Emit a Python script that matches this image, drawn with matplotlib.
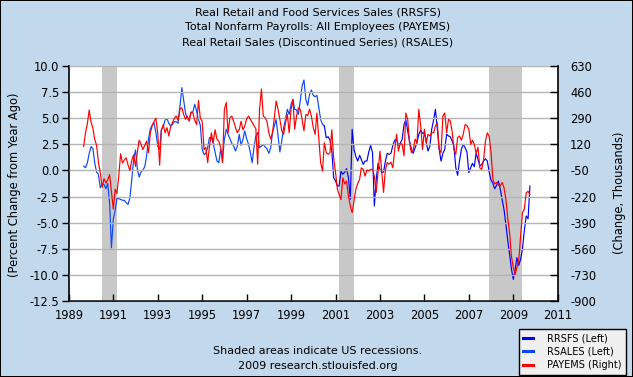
import numpy as np
import pandas as pd
import matplotlib
matplotlib.use("Agg")
import matplotlib.pyplot as plt
import matplotlib.dates as mdates
from matplotlib.lines import Line2D

plt.rcParams['font.family'] = ['DejaVu Sans']
plt.rcParams['axes.unicode_minus'] = False

# ---------------- data ----------------
start_month = "1989-09-01"

# RSALES, percent change from year ago (left axis)
rsales = [0.42, 0.26, 0.74, 1.64, 2.28, 2.08, 0.74, -0.15, -0.37, -1.65,
          -1.33, -1.33, -1.75, -1.24, -3.09, -7.4, -4.68, -3.79, -2.7, -2.7,
          -2.77, -2.86, -2.86, -3.09, -3.25, -2.6, -0.85, 1.06, 1.96, 0.1,
          -0.63, -0.15, 0.04, 0.36, 1.38, 2.98, 4.0, 4.32, 4.57, 3.62,
          2.34, 2.02, 3.94, 4.19, 4.83, 4.96, 4.51, 4.26, 4.41, 4.67,
          4.67, 4.51, 6.17, 7.93, 6.81, 5.53, 4.96, 4.83, 5.53, 5.6,
          6.33, 5.69, 4.89, 4.32, 2.02, 1.51, 1.64, 2.18, 3.14, 3.14,
          2.6, 1.77, 0.9, 0.74, 2.02, 1.0, 2.98, 3.94, 3.46, 3.04,
          2.6, 2.34, 1.86, 2.34, 3.46, 2.4, 2.98, 3.78, 3.04, 2.5,
          1.77, 0.74, 2.18, 3.3, 3.62, 2.18, 2.34, 2.47, 2.24, 2.08,
          1.64, 2.18, 3.62, 4.26, 4.89, 3.3, 1.77, 2.82, 4.1, 4.89,
          5.85, 5.37, 6.33, 6.81, 5.85, 5.79, 5.37, 6.65, 8.09, 8.66,
          6.81, 6.23, 7.29, 7.7, 7.19, 7.06, 7.19, 6.01, 4.89, 4.41,
          4.26]

# RRSFS, percent change from year ago (left axis), continues after RSALES
rrsfs_start_index = 130
rrsfs = [4.26, 3.14, 3.23, 2.91, 1.86, -0.69, -1.01, -1.49, -1.49, -0.05,
         -0.37, -0.15, 0.17, -0.69, -2.77, 3.94, 2.02, 1.32, 0.9, 1.45,
         1.06, 0.58, 0.9, 0.9, 1.77, 2.4, 1.7, -3.4, -0.85, 0.68,
         0.1, -0.21, -0.15, 0.9, 1.64, 1.54, 1.64, 2.4, 2.91, 2.98,
         2.4, 2.6, 2.98, 4.41, 4.83, 3.78, 2.82, 2.02, 1.64, 2.18,
         2.66, 3.46, 3.87, 3.55, 3.62, 2.66, 1.86, 2.34, 3.94, 4.83,
         5.85, 4.0, 2.02, 0.9, 1.64, 2.02, 3.46, 3.3, 3.23, 2.82,
         2.34, 0.26, -0.47, 0.9, 2.02, 2.5, 2.18, 1.77, -0.21, 0.26,
         0.68, 0.36, 1.64, 1.06, 0.42, 0.58, 0.9, 1.13, 0.9, -0.15,
         -0.92, -1.24, -1.75, -1.43, -1.01, -1.81, -2.77, -3.72, -5.16, -6.66,
         -8.03, -9.41, -10.43, -9.47, -8.35, -9.09, -8.51, -7.49, -5.8, -4.36,
         -4.62, -1.5]

# PAYEMS, monthly change in thousands (right axis)
payems = [106, 195, 256, 344, 263, 222, 154, 113, 4, -64,
          -159, -104, -132, -111, -77, -186, -302, -172, -200, -84,
          59, -2, 18, 32, -16, -50, 18, 52, -23, 72,
          147, 120, 86, 113, 140, 66, 195, 242, 270, 290,
          188, -16, 208, 249, 195, 229, 174, 236, 263, 290,
          304, 276, 351, 358, 317, 283, 304, 270, 331, 324,
          276, 249, 406, 290, 270, 86, 100, 1, 106, 195,
          130, 215, 154, 140, 100, 1, 348, 392, 195, 293,
          304, 270, 229, 195, 215, 270, 215, 239, 287, 304,
          283, 263, 242, 222, -9, 348, 480, 304, 293, 270,
          195, 154, 195, 293, 402, 348, 283, 208, 185, 259,
          314, 195, 348, 412, 219, 304, 358, 348, 283, 208,
          314, 307, 348, 304, 229, 185, 324, 164, 1, -53,
          130, 66, 55, 66, 215, 32, -64, -172, -206, -240,
          -98, -138, -118, -217, -281, -325, -247, -172, -135, -108,
          -33, -43, -87, -47, -53, -43, -43, -87, -193, -64,
          76, -64, -193, -43, 1, -9, 4, -33, 86, 185,
          76, 127, 120, 45, 324, 283, 130, 66, 83, 154,
          130, 348, 239, 86, 219, 130, 185, 174, 195, 195,
          239, 259, 86, 66, 304, 324, 195, 283, 273, 208,
          86, 55, 164, 174, 147, 185, 249, 242, 219, 120,
          147, 120, 62, 100, -33, -43, 21, 140, 195, 174,
          66, -108, -138, -128, -145, -152, -128, -162, -237, -356,
          -455, -608, -682, -727, -682, -638, -478, -325, -302, -196,
          -186, -206]

recessions = [("1990-07-01", "1991-03-01"),
              ("2001-03-01", "2001-11-01"),
              ("2007-12-01", "2009-06-01")]

title_lines = ["Real Retail and Food Services Sales (RRSFS)",
               "Total Nonfarm Payrolls: All Employees (PAYEMS)",
               "Real Retail Sales (Discontinued Series) (RSALES)"]
left_ticks = [10.0, 7.5, 5.0, 2.5, 0.0, -2.5, -5.0, -7.5, -10.0, -12.5]
right_ticks = [630, 460, 290, 120, -50, -220, -390, -560, -730, -900]
x_tick_years = [1989, 1991, 1993, 1995, 1997, 1999, 2001, 2003, 2005, 2007, 2009, 2011]

# ---------------- figure ----------------
W, H = 633, 377
fig = plt.figure(figsize=(W / 100, H / 100), dpi=100)
bg = '#C2D8EC'
fig.patch.set_facecolor(bg)
fig.patch.set_edgecolor('black')
fig.patch.set_linewidth(1.2)

l, r, t, b = 68.9, 557.7, 66, 301
ax = fig.add_axes([l / W, 1 - b / H, (r - l) / W, (b - t) / H])
ax.set_facecolor('white')

months_all = pd.date_range(start_month, periods=len(payems), freq='MS')
d_rsales = months_all[:len(rsales)]
d_rrsfs = months_all[rrsfs_start_index:rrsfs_start_index + len(rrsfs)]

for s, e in recessions:
    ax.axvspan(pd.Timestamp(s), pd.Timestamp(e), color='#C8C8C8', lw=0, zorder=0.5)

ax.set_ylim(-12.5, 10.0)
ax.set_yticks(left_ticks)
ax.set_yticklabels([f"{v:.1f}" for v in left_ticks])
ax.yaxis.grid(True, color='#B4B4B4', lw=1.0, zorder=0.6)
ax.set_axisbelow(False)

ax.plot(d_rsales, rsales, color='#0A46FF', lw=0.85, zorder=2)
ax.plot(d_rrsfs, rrsfs, color='#0000FF', lw=0.85, zorder=2)

ax.set_xlim(pd.Timestamp("1989-01-01"), pd.Timestamp("2011-01-01"))
ax.set_xticks([pd.Timestamp(f"{y}-01-01") for y in x_tick_years])
ax.set_xticklabels([str(y) for y in x_tick_years])

ax.tick_params(axis='y', direction='out', length=5, width=1, pad=2, labelsize=8.3, colors='black')
ax.tick_params(axis='x', direction='in', length=5, width=1, pad=6, labelsize=8.3)
for sp in ['left', 'bottom']:
    ax.spines[sp].set_color('black')
    ax.spines[sp].set_linewidth(1.2)
ax.spines['top'].set_visible(False)
ax.spines['right'].set_visible(False)

ax2 = ax.twinx()
ax2.set_ylim(-900, 630)
ax2.set_yticks(right_ticks)
ax2.set_yticklabels([str(v) for v in right_ticks])
ax2.plot(months_all, payems, color='#FF0000', lw=0.85, zorder=3)
ax2.tick_params(axis='y', direction='in', length=6, width=1, pad=9, labelsize=8.3)
ax2.spines['right'].set_color('black')
ax2.spines['right'].set_linewidth(1.2)
ax2.spines['top'].set_visible(False)
ax2.spines['left'].set_visible(False)
ax2.spines['bottom'].set_visible(False)

# axis labels
fig.text(15 / W, 1 - 185 / H, "(Percent Change from Year Ago)", rotation=90,
         ha='center', va='center', fontsize=8.3)
fig.text(620 / W, 1 - 193 / H, "(Change, Thousands)", rotation=90,
         ha='center', va='center', fontsize=8.3)

# titles
for i, line in enumerate(title_lines):
    fig.text(318 / W, 1 - (12.5 + 15 * i) / H, line, ha='center', va='center', fontsize=8)

# footer
fig.text(318 / W, 1 - 351 / H, "Shaded areas indicate US recessions.", ha='center', va='center', fontsize=8)
fig.text(318 / W, 1 - 366 / H, "2009 research.stlouisfed.org", ha='center', va='center', fontsize=8)

# legend
handles = [Line2D([], [], color='#0000FF', lw=2.2),
           Line2D([], [], color='#0A46FF', lw=2.2),
           Line2D([], [], color='#FF0000', lw=2.2)]
labels = ["RRSFS (Left)", "RSALES (Left)", "PAYEMS (Right)"]
leg = fig.legend(handles, labels, loc='upper left', bbox_to_anchor=(519 / W, 1 - 329 / H),
                 fontsize=7, frameon=True, fancybox=False, framealpha=1,
                 facecolor='#F0F0F0', edgecolor='black', handlelength=1.0,
                 handletextpad=1.4, borderpad=0.45, labelspacing=0.35, borderaxespad=0)
leg.get_frame().set_linewidth(1.0)

fig.savefig("out.png", dpi=100, facecolor=fig.get_facecolor(), edgecolor=fig.get_edgecolor())
